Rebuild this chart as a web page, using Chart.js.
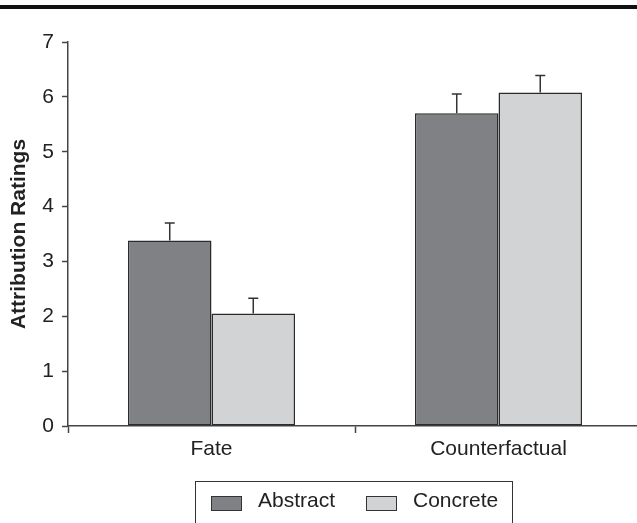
<!DOCTYPE html>
<html>
<head>
<meta charset="utf-8">
<script src="https://cdn.jsdelivr.net/npm/chart.js@4"></script>
<style>
  html, body { margin: 0; padding: 0; background: #fff; overflow: hidden; width: 637px; height: 523px; }
  #wrap { position: relative; width: 637px; height: 523px; overflow: hidden; }
  #topRule { position: absolute; left: 0; top: 5px; width: 637px; height: 4px; background: #111; }
  #chart { position: absolute; left: 0; top: 0; }
  #legend { position: absolute; left: 195px; top: 481px; width: 316px; height: 60px; border: 1.5px solid #333;
            font-family: "Liberation Sans", Arial, sans-serif; font-size: 21px; color: #222; }
  .item { position: absolute; top: 12px; height: 24px; line-height: 24px; }
  .swatch { position: absolute; top: 2px; left: 0; width: 29px; height: 13px; border: 1.5px solid #333; }
  .label { position: absolute; left: 47px; top: -6px; white-space: nowrap; }
</style>
</head>
<body>
<div id="wrap">
  <div id="topRule"></div>
  <canvas id="chart" width="642" height="523"></canvas>
  <div id="legend"></div>
</div>
<script>
// values
var categories = ['Fate', 'Counterfactual'];
var seriesNames = ['Abstract', 'Concrete'];
var abstractMeans = [3.38, 5.70];
var concreteMeans = [2.05, 6.08];
var abstractErr = [0.32, 0.35]; // upper error bar only
var concreteErr = [0.28, 0.31];
var yTicks = [0, 1, 2, 3, 4, 5, 6, 7];

var fills = ['#808184', '#d1d3d4'];
var edge = '#2b2b2b';
var font = '"Liberation Sans", Arial, sans-serif';

// error bars drawn on top of the bars, only upward
var errorBars = {
    id: 'errorBars',
    afterDatasetsDraw: function(chart) {
        var ctx = chart.ctx;
        var yScale = chart.scales.y;
        var errs = [abstractErr, concreteErr];
        ctx.save();
        ctx.strokeStyle = '#333';
        ctx.lineWidth = 1.5;
        chart.data.datasets.forEach(function(ds, d) {
            var meta = chart.getDatasetMeta(d);
            meta.data.forEach(function(bar, i) {
                var top = yScale.getPixelForValue(ds.data[i] + errs[d][i]);
                ctx.beginPath();
                ctx.moveTo(bar.x, bar.y);
                ctx.lineTo(bar.x, top);
                ctx.moveTo(bar.x - 5, top);
                ctx.lineTo(bar.x + 5, top);
                ctx.stroke();
            });
        });
        ctx.restore();
    }
};

function makeSet(i, data) {
    return {
        label: seriesNames[i],
        data: data,
        backgroundColor: fills[i],
        borderColor: edge,
        borderWidth: 1.5,
        borderSkipped: false,
        categoryPercentage: 0.582,
        barPercentage: 1.0
    };
}

var ctx = document.getElementById('chart').getContext('2d');
var chart = new Chart(ctx, {
    type: 'bar',
    data: {
        labels: categories,
        datasets: [makeSet(0, abstractMeans), makeSet(1, concreteMeans)]
    },
    options: {
        responsive: false,
        animation: false,
        layout: { padding: { top: 42, right: 0, bottom: 61, left: 0 } },
        plugins: {
            legend: { display: false },
            tooltip: { enabled: false }
        },
        scales: {
            x: {
                grid: { display: true, offset: true, drawOnChartArea: false, drawTicks: true,
                        tickLength: 7, tickColor: '#444', tickWidth: 1.5 },
                border: { display: true, color: '#444', width: 1.5 },
                ticks: { color: '#222', font: { family: font, size: 21 }, padding: 4 },
                afterFit: function(scale) { scale.height = 36; }
            },
            y: {
                min: 0,
                max: 7,
                afterBuildTicks: function(scale) {
                    scale.ticks = yTicks.map(function(v) { return { value: v }; });
                },
                grid: { display: true, drawOnChartArea: false, drawTicks: true,
                        tickLength: 6, tickColor: '#444', tickWidth: 1.5 },
                border: { display: true, color: '#444', width: 1.5 },
                ticks: { color: '#222', font: { family: font, size: 21 }, padding: 8 },
                title: { display: true, text: 'Attribution Ratings', color: '#222',
                         font: { family: font, size: 21, weight: 'bold' }, padding: { top: 7, bottom: 0 } },
                afterFit: function(scale) { scale.width = 68; }
            }
        }
    },
    plugins: [errorBars]
});

// boxed legend under the axis
var legend = document.getElementById('legend');
var itemLeft = [15, 170];
seriesNames.forEach(function(name, i) {
    var item = document.createElement('div');
    item.className = 'item';
    item.style.left = itemLeft[i] + 'px';
    var sw = document.createElement('div');
    sw.className = 'swatch';
    sw.style.background = fills[i];
    var lab = document.createElement('span');
    lab.className = 'label';
    lab.textContent = name;
    item.appendChild(sw);
    item.appendChild(lab);
    legend.appendChild(item);
});
</script>
</body>
</html>
